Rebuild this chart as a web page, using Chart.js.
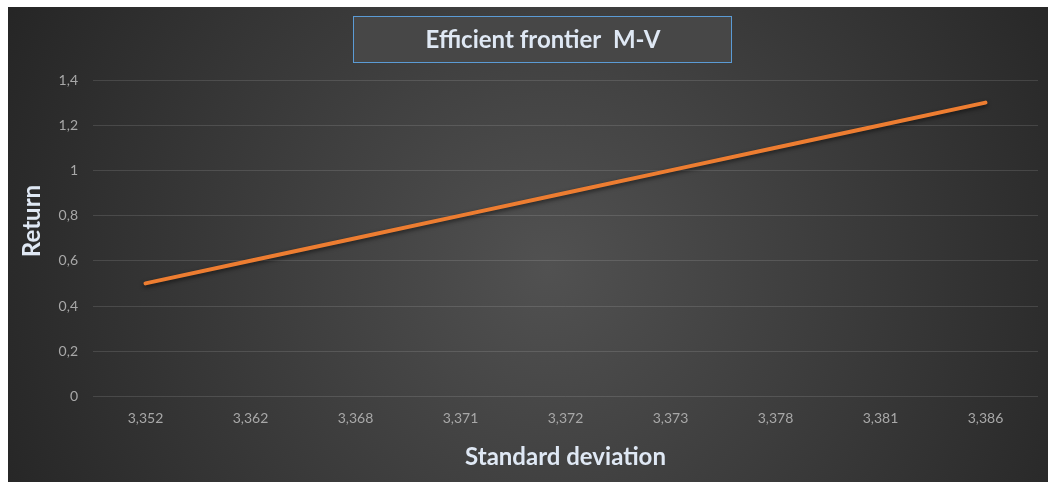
<!DOCTYPE html>
<html>
<head>
<meta charset="utf-8">
<script src="https://cdn.jsdelivr.net/npm/chart.js@4"></script>
<style>
  html, body { margin: 0; padding: 0; background: #ffffff; }
  #wrap { position: absolute; left: 8px; top: 7px; width: 1040px; height: 475px; }
</style>
</head>
<body>
<div id="wrap"><canvas id="chart" width="1040" height="475"></canvas></div>
<script>
// Chart values
const stdDevLabels = ['3,352', '3,362', '3,368', '3,371', '3,372', '3,373', '3,378', '3,381', '3,386'];
const returns = [0.5, 0.6, 0.7, 0.8, 0.9, 1.0, 1.1, 1.2, 1.3];
const chartTitle = 'Efficient frontier  M-V';
const xTitle = 'Standard deviation';
const yTitle = 'Return';

const textColor = '#dfe8f4';
const tickColor = '#a8a8a8';

// dark radial background, boxed title and y title (drawn by hand, the original has them off-centre)
const backdrop = {
    id: 'backdrop',
    beforeDraw(chart) {
        const {ctx, width, height} = chart;
        ctx.save();
        const g = ctx.createRadialGradient(540, 260, 0, 540, 260, 620);
        g.addColorStop(0, '#515151');
        g.addColorStop(1, '#242424');
        ctx.fillStyle = g;
        ctx.fillRect(0, 0, width, height);

        const cx = 534, cy = 32;
        const w = 378, h = 46;
        ctx.fillStyle = '#474747';
        ctx.fillRect(cx - w / 2, cy - h / 2, w, h);
        ctx.strokeStyle = '#5b9bd5';
        ctx.lineWidth = 1;
        ctx.strokeRect(cx - w / 2 + 0.5, cy - h / 2 + 0.5, w, h);

        ctx.fillStyle = textColor;
        ctx.font = 'bold 24px Lato';
        ctx.textAlign = 'center';
        ctx.textBaseline = 'middle';
        ctx.fillText(chartTitle, cx + 1, cy + 1);

        ctx.translate(24, 214);
        ctx.rotate(-Math.PI / 2);
        ctx.fillText(yTitle, 0, 0);
        ctx.restore();
    },
    beforeDatasetDraw(chart) {
        const ctx = chart.ctx;
        ctx.save();
        ctx.shadowColor = 'rgba(0,0,0,0.55)';
        ctx.shadowBlur = 4;
        ctx.shadowOffsetY = 2;
    },
    afterDatasetDraw(chart) {
        chart.ctx.restore();
    }
};

new Chart(document.getElementById('chart').getContext('2d'), {
    type: 'line',
    data: {
        labels: stdDevLabels,
        datasets: [{
            data: returns,
            borderColor: '#ed7d31',
            borderWidth: 4,
            borderCapStyle: 'round',
            pointRadius: 0,
            tension: 0,
            fill: false
        }]
    },
    options: {
        responsive: false,
        animation: false,
        layout: {
            padding: {left: 0, right: 10, top: 73, bottom: 0}
        },
        plugins: {
            legend: {display: false},
            tooltip: {enabled: false},
            title: {display: false}
        },
        scales: {
            x: {
                offset: true,
                grid: {display: false, drawTicks: false},
                border: {display: false},
                ticks: {
                    color: tickColor,
                    font: {family: 'Lato', size: 14},
                    padding: 14,
                    maxRotation: 0
                },
                title: {
                    display: true,
                    text: xTitle,
                    color: textColor,
                    font: {family: 'Lato', size: 24, weight: 'bold'},
                    padding: {top: 2, bottom: 10}
                }
            },
            y: {
                min: 0,
                max: 1.4,
                grid: {
                    color: 'rgba(255,255,255,0.12)',
                    drawTicks: false
                },
                border: {display: false},
                ticks: {
                    stepSize: 0.2,
                    color: tickColor,
                    font: {family: 'Lato', size: 14},
                    padding: 15,
                    callback: v => String(Math.round(v * 10) / 10).replace('.', ',')
                },
                title: {display: false},
                afterFit(scale) {
                    scale.width = 85;
                }
            }
        }
    },
    plugins: [backdrop]
});
</script>
</body>
</html>
